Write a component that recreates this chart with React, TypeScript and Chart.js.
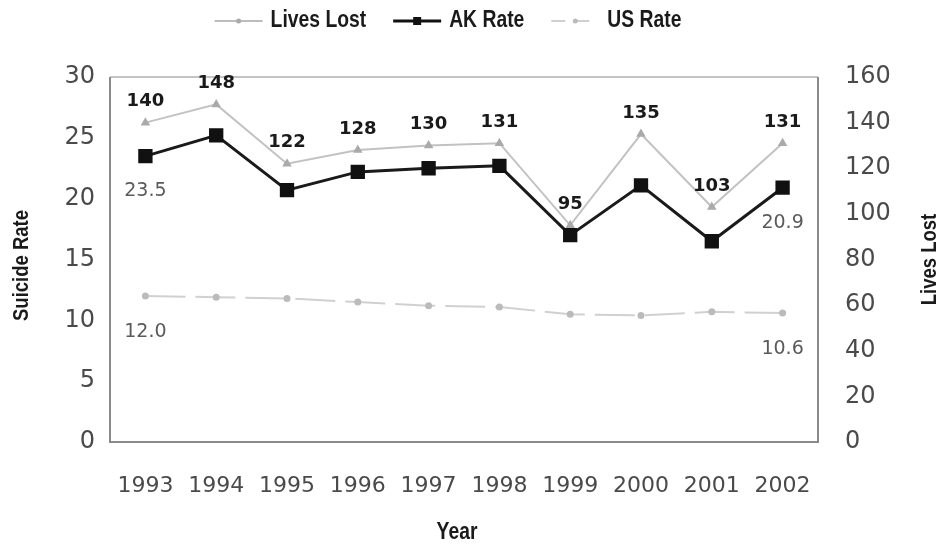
import { useEffect, useRef } from "react";
import { Chart, registerables } from "chart.js";

Chart.register(...registerables);

const years = ["1993", "1994", "1995", "1996", "1997", "1998", "1999", "2000", "2001", "2002"];
const livesLost = [140, 148, 122, 128, 130, 131, 95, 135, 103, 131];
const akRate = [23.5, 25.2, 20.7, 22.2, 22.5, 22.7, 17.0, 21.1, 16.5, 20.9];
const usRate = [12.0, 11.9, 11.8, 11.5, 11.2, 11.1, 10.5, 10.4, 10.7, 10.6];
const rateAxis = { min: 0, max: 30, step: 5 };
const livesAxis = { min: 0, max: 160, step: 20 };
const legendNames = ["Lives Lost", "AK Rate", "US Rate"];
const axisTitles = { left: "Suicide Rate", right: "Lives Lost", bottom: "Year" };

const BOLD_FONT = "bold 22px 'Liberation Sans', Arial, sans-serif";
const SQUEEZE = 0.84;

function narrowText(ctx: any, text: string, x: number, y: number, align: "left" | "center") {
  ctx.save();
  ctx.translate(x, y);
  ctx.scale(SQUEEZE, 1);
  ctx.textAlign = align;
  ctx.fillText(text, 0, 0);
  ctx.restore();
}

const overlayPlugin = {
  id: "overlay",
  beforeDatasetsDraw(chart: any) {
    const { ctx, chartArea: a } = chart;
    ctx.save();
    ctx.lineWidth = 2;
    ctx.strokeStyle = "#c4c4c4";
    ctx.beginPath();
    ctx.moveTo(a.left, a.top);
    ctx.lineTo(a.right, a.top);
    ctx.stroke();
    ctx.strokeStyle = "#8a8a8a";
    ctx.beginPath();
    ctx.moveTo(a.left, a.top);
    ctx.lineTo(a.left, a.bottom);
    ctx.lineTo(a.right, a.bottom);
    ctx.lineTo(a.right, a.top);
    ctx.stroke();
    ctx.restore();
  },
  afterDatasetsDraw(chart: any) {
    const { ctx } = chart;
    ctx.save();
    ctx.textAlign = "center";
    ctx.textBaseline = "middle";
    const m0 = chart.getDatasetMeta(0);
    ctx.font = "bold 18px 'DejaVu Sans', sans-serif";
    ctx.fillStyle = "#1a1a1a";
    m0.data.forEach((p: any, i: number) => {
      ctx.fillText(String(livesLost[i]), p.x, p.y - 21);
    });
    ctx.font = "19px 'DejaVu Sans', sans-serif";
    ctx.fillStyle = "#5a5a5a";
    const m1 = chart.getDatasetMeta(1);
    const m2 = chart.getDatasetMeta(2);
    const last = years.length - 1;
    [0, last].forEach((i) => {
      const p1 = m1.data[i];
      ctx.fillText(akRate[i].toFixed(1), p1.x, p1.y + 35);
      const p2 = m2.data[i];
      ctx.fillText(usRate[i].toFixed(1), p2.x, p2.y + 36);
    });
    ctx.restore();
  },
  afterDraw(chart: any) {
    const { ctx, chartArea: a, width, height } = chart;
    ctx.save();
    ctx.font = BOLD_FONT;
    ctx.fillStyle = "#1a1a1a";
    ctx.textBaseline = "middle";
    const midY = (a.top + a.bottom) / 2;
    ctx.save();
    ctx.translate(22, midY + 6);
    ctx.rotate(-Math.PI / 2);
    narrowText(ctx, axisTitles.left, 0, 0, "center");
    ctx.restore();
    ctx.save();
    ctx.translate(width - 17, midY);
    ctx.rotate(-Math.PI / 2);
    narrowText(ctx, axisTitles.right, 0, 0, "center");
    ctx.restore();
    ctx.font = "bold 23px 'Liberation Sans', Arial, sans-serif";
    narrowText(ctx, axisTitles.bottom, (a.left + a.right) / 2 - 7, height - 16, "center");

    // legend
    ctx.font = "bold 23px 'Liberation Sans', Arial, sans-serif";
    const symW = 48;
    const gapSym = 8;
    const gapItem = 27;
    const widths = legendNames.map((n) => ctx.measureText(n).width * SQUEEZE);
    const total = widths.reduce((s, w) => s + symW + gapSym + w, 0) + gapItem * (legendNames.length - 1);
    let x = (a.left + a.right) / 2 - 16 - total / 2;
    const ly = 21;
    const styles = [
      { color: "#bdbdbd", width: 2, dash: [] as number[], marker: "tri" },
      { color: "#111", width: 3, dash: [] as number[], marker: "rect" },
      { color: "#cfcfcf", width: 2, dash: [14, 10], marker: "dot" },
    ];
    legendNames.forEach((name, i) => {
      const s = styles[i];
      ctx.strokeStyle = s.color;
      ctx.lineWidth = s.width;
      ctx.setLineDash(s.dash);
      ctx.beginPath();
      ctx.moveTo(x, ly);
      ctx.lineTo(x + symW, ly);
      ctx.stroke();
      ctx.setLineDash([]);
      const cx = x + symW / 2;
      if (s.marker === "rect") {
        ctx.fillStyle = "#111";
        ctx.fillRect(cx - 4, ly - 4, 8, 8);
      } else {
        ctx.fillStyle = i === 0 ? "#aaa" : "#bbb";
        ctx.beginPath();
        ctx.arc(cx, ly, 2.5, 0, Math.PI * 2);
        ctx.fill();
      }
      ctx.fillStyle = "#1a1a1a";
      narrowText(ctx, name, x + symW + gapSym, ly, "left");
      x += symW + gapSym + widths[i] + gapItem;
    });
    ctx.restore();
  },
};

export default function App() {
  const ref = useRef<HTMLCanvasElement | null>(null);

  useEffect(() => {
    if (!ref.current) return;
    const chart = new Chart(ref.current, {
      type: "line",
      data: {
        labels: years,
        datasets: [
          {
            label: legendNames[0],
            data: livesLost,
            yAxisID: "y1",
            borderColor: "#c2c2c2",
            borderWidth: 2,
            pointStyle: "triangle",
            pointRadius: 3.5,
            pointBackgroundColor: "#aaaaaa",
            pointBorderColor: "#aaaaaa",
            tension: 0,
          },
          {
            label: legendNames[1],
            data: akRate,
            yAxisID: "y",
            borderColor: "#1a1a1a",
            borderWidth: 3,
            pointStyle: "rect",
            pointRadius: 8,
            pointBackgroundColor: "#111",
            pointBorderColor: "#111",
            tension: 0,
          },
          {
            label: legendNames[2],
            data: usRate,
            yAxisID: "y",
            borderColor: "#d0d0d0",
            borderWidth: 2,
            borderDash: [40, 10],
            pointStyle: "circle",
            pointRadius: 2.5,
            pointBackgroundColor: "#bbbbbb",
            pointBorderColor: "#bbbbbb",
            tension: 0,
          },
        ],
      },
      options: {
        animation: false,
        responsive: true,
        maintainAspectRatio: false,
        layout: { padding: { top: 77, left: 0, right: 0, bottom: 0 } },
        plugins: { legend: { display: false }, tooltip: { enabled: false } },
        scales: {
          x: {
            offset: true,
            grid: { display: false, drawTicks: false },
            border: { display: false },
            ticks: { color: "#4a4a4a", font: { family: "'DejaVu Sans', sans-serif", size: 22 }, padding: 31, maxRotation: 0 },
            afterFit: (s: any) => { s.height = 107; },
          },
          y: {
            position: "left",
            min: rateAxis.min,
            max: rateAxis.max,
            ticks: { stepSize: rateAxis.step, color: "#4a4a4a", font: { family: "'DejaVu Sans', sans-serif", size: 24 }, padding: 15 },
            grid: { display: false, drawTicks: false },
            border: { display: false },
            afterFit: (s: any) => { s.width = 110; },
          },
          y1: {
            position: "right",
            min: livesAxis.min,
            max: livesAxis.max,
            ticks: { stepSize: livesAxis.step, color: "#4a4a4a", font: { family: "'DejaVu Sans', sans-serif", size: 24 }, padding: 27 },
            grid: { display: false, drawTicks: false },
            border: { display: false },
            afterFit: (s: any) => { s.width = 129; },
          },
        },
      },
      plugins: [overlayPlugin],
    });
    return () => chart.destroy();
  }, []);

  return (
    <div style={{ position: "fixed", left: 0, top: 0, width: 947, height: 549, background: "#fff" }}>
      <canvas ref={ref} />
    </div>
  );
}
